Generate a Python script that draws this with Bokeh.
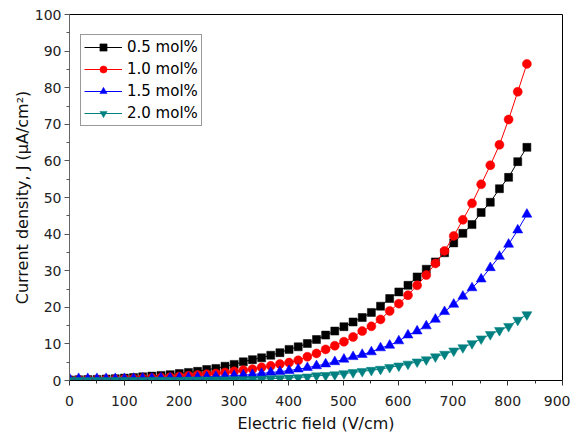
from bokeh.plotting import figure
from bokeh.models import Range1d, SingleIntervalTicker
from bokeh.embed import file_html
from bokeh.resources import INLINE

# Electric field (V/cm)
electric_field = [0, 16.7, 33.4, 50.1, 66.8, 83.5, 100.2, 116.9, 133.6, 150.3,
                  167.0, 183.7, 200.4, 217.1, 233.8, 250.5, 267.2, 283.9, 300.6, 317.3,
                  334.0, 350.7, 367.4, 384.1, 400.8, 417.5, 434.2, 450.9, 467.6, 484.3,
                  501.0, 517.7, 534.4, 551.1, 567.8, 584.5, 601.2, 617.9, 634.6, 651.3,
                  668.0, 684.7, 701.4, 718.1, 734.8, 751.5, 768.2, 784.9, 801.6, 818.3,
                  835.0]

# Current density (uA/cm^2)
j_05 = [0.15, 0.2, 0.25, 0.3, 0.4, 0.5, 0.65, 0.8, 1.0, 1.2,
        1.4, 1.6, 1.9, 2.2, 2.5, 3.0, 3.3, 3.9, 4.4, 5.1,
        5.7, 6.2, 6.9, 7.6, 8.5, 9.2, 10.1, 11.2, 12.4, 13.5,
        14.7, 16.0, 17.2, 18.6, 20.3, 22.4, 24.2, 26.0, 28.3, 30.4,
        32.4, 34.9, 37.6, 40.2, 42.6, 45.9, 48.7, 52.4, 55.5, 59.8,
        63.7]
j_10 = [0.15, 0.2, 0.2, 0.25, 0.3, 0.35, 0.4, 0.5, 0.6, 0.7,
        0.8, 0.9, 1.1, 1.3, 1.5, 1.7, 1.9, 2.2, 2.5, 2.8,
        3.1, 3.6, 4.0, 4.5, 4.9, 5.5, 6.5, 7.4, 8.5, 9.5,
        10.6, 11.9, 13.5, 14.8, 16.7, 19.0, 21.0, 23.3, 26.0, 28.8,
        32.0, 35.4, 39.5, 43.9, 48.4, 53.6, 58.8, 64.4, 71.3, 78.9,
        86.5]
j_15 = [0.5, 0.5, 0.5, 0.5, 0.5, 0.5, 0.5, 0.55, 0.6, 0.6,
        0.65, 0.7, 0.75, 0.8, 0.9, 1.0, 1.1, 1.2, 1.35, 1.5,
        1.6, 1.9, 2.2, 2.4, 2.7, 3.1, 3.5, 4.0, 4.5, 5.1,
        5.8, 6.5, 7.1, 7.8, 8.9, 9.6, 10.8, 12.4, 13.5, 14.9,
        16.7, 18.8, 20.8, 23.0, 25.3, 27.7, 30.8, 33.9, 37.2, 41.1,
        45.4]
j_20 = [0.05, 0.05, 0.05, 0.05, 0.05, 0.05, 0.05, 0.05, 0.05, 0.1,
        0.1, 0.1, 0.1, 0.15, 0.15, 0.15, 0.2, 0.2, 0.25, 0.25,
        0.3, 0.4, 0.5, 0.6, 0.7, 0.8, 1.0, 1.3, 1.4, 1.6,
        1.9, 2.2, 2.5, 2.8, 3.1, 3.6, 4.0, 4.5, 5.1, 5.7,
        6.5, 7.2, 8.1, 9.0, 10.1, 11.4, 12.6, 13.7, 14.8, 16.5,
        18.0]

series_labels = ["0.5 mol%", "1.0 mol%", "1.5 mol%", "2.0 mol%"]
x_ticks = [0, 100, 200, 300, 400, 500, 600, 700, 800, 900]
y_ticks = [0, 10, 20, 30, 40, 50, 60, 70, 80, 90, 100]

FONT = "DejaVu Sans"

p = figure(frame_width=493, frame_height=366,
           x_range=Range1d(x_ticks[0], x_ticks[-1]),
           y_range=Range1d(y_ticks[0], y_ticks[-1]),
           output_backend="svg", toolbar_location=None,
           min_border_left=69, min_border_right=8,
           min_border_top=14, min_border_bottom=40)

p.xgrid.visible = False
p.ygrid.visible = False
p.outline_line_color = "black"
p.outline_line_width = 1
p.background_fill_color = "white"
p.border_fill_color = "white"

p.xaxis.ticker = SingleIntervalTicker(interval=100, num_minor_ticks=2)
p.yaxis.ticker = SingleIntervalTicker(interval=10, num_minor_ticks=2)

for ax in (p.xaxis[0], p.yaxis[0]):
    ax.major_tick_in = 0
    ax.major_tick_out = 5
    ax.minor_tick_in = 0
    ax.minor_tick_out = 3
    ax.major_label_text_font = FONT
    ax.major_label_text_font_size = "14px"
    ax.major_label_text_color = "#222222"
    ax.axis_label_text_font = FONT
    ax.axis_label_text_font_size = "16px"
    ax.axis_label_text_font_style = "normal"
    ax.axis_label_text_color = "#111111"

p.xaxis.axis_line_color = "black"
p.xaxis.major_tick_line_color = "#333333"
p.xaxis.minor_tick_line_color = "#333333"
p.yaxis.axis_line_color = "#666666"
p.yaxis.major_tick_line_color = "#555555"
p.yaxis.minor_tick_line_color = "#555555"
p.xaxis.major_label_standoff = 10
p.yaxis.major_label_standoff = 3
p.xaxis.axis_label = "Electric field (V/cm)"
p.xaxis.axis_label_standoff = 5
p.yaxis.axis_label = "Current density, J (\u03bcA/cm\u00b2)"
p.yaxis.axis_label_standoff = 0

colors = ["black", "#ff0000", "#0000ff", "#008080"]
markers = ["square", "circle", "triangle", "inverted_triangle"]
sizes = [8, 9, 10, 10]
data = [j_05, j_10, j_15, j_20]

for ys, c, m, s, lab in zip(data, colors, markers, sizes, series_labels):
    p.line(electric_field, ys, line_color=c, line_width=1, legend_label=lab)
    p.scatter(electric_field, ys, marker=m, size=s, fill_color=c,
              line_color=c, line_width=0.5, legend_label=lab)

lg = p.legend[0]
lg.location = (11, 254)
lg.label_text_font = FONT
lg.label_text_font_size = "15px"
lg.label_text_color = "black"
lg.glyph_width = 38
lg.glyph_height = 18
lg.label_height = 18
lg.spacing = 4
lg.padding = 3
lg.margin = 0
lg.label_standoff = 5
lg.border_line_color = "#333333"
lg.border_line_width = 1
lg.background_fill_color = "white"
lg.background_fill_alpha = 1.0

open("out.html", "w").write(file_html(p, INLINE))
